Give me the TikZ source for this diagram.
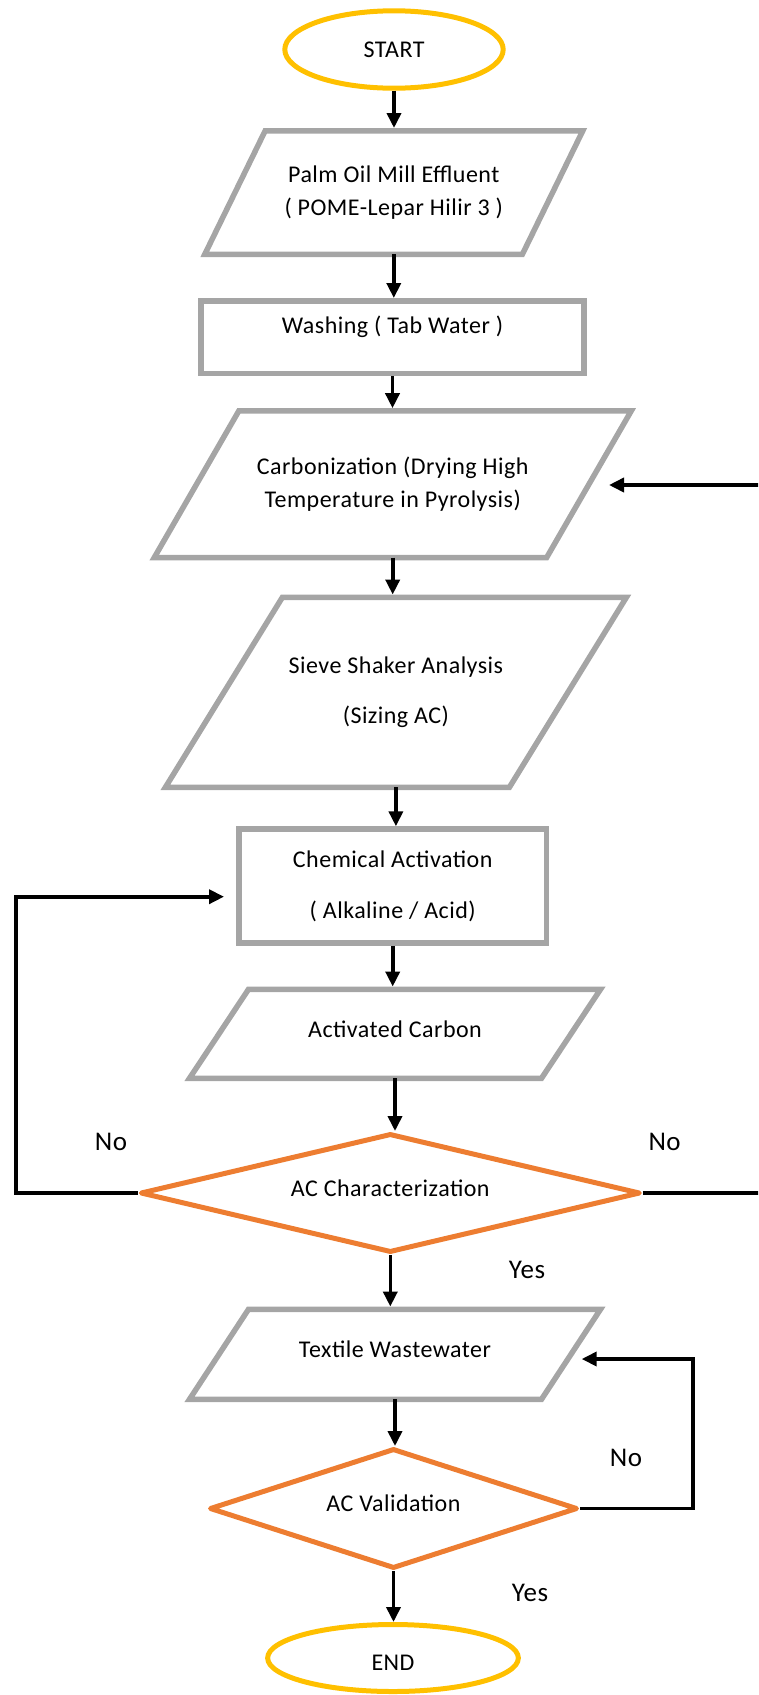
\documentclass[tikz,border=0pt]{standalone}
\usepackage{fontspec}
\setmainfont{Carlito}[LetterSpace=2]
\usetikzlibrary{shapes.geometric,arrows.meta,calc}
\definecolor{boxgray}{HTML}{A5A5A5}
\definecolor{dorange}{HTML}{ED7D31}
\definecolor{tgold}{HTML}{FFC000}
\begin{document}
\begin{tikzpicture}[x=1pt,y=-1pt,
  txt/.style={font=\fontsize{24}{32.5}\selectfont, align=center, inner sep=0pt, text=black},
  term/.style={txt, ellipse, draw=tgold, line width=5pt},
  io/.style={txt, rectangle, outer sep=0pt},
  iobox/.style={draw=boxgray, line width=5.5pt},
  proc/.style={txt, rectangle, draw=boxgray, line width=5.5pt},
  dec/.style={txt, diamond, draw=dorange, line width=5pt, line join=round},
  arr/.style={draw=black, line width=3.6pt, -{Triangle[length=15pt,width=14pt]}},
  toio/.style={arr, shorten >=2.75pt},
  lbl/.style={font=\fontsize{27}{30}\selectfont, inner sep=0pt, text=black}
]
\useasboundingbox (0,0) rectangle (758,1695);
\clip (0,0) rectangle (758,1695);

\node[term, minimum width=218.4pt, minimum height=77.4pt] (start) at (394,49.5) {START};

\node[io, minimum width=378pt, minimum height=123.5pt] (palm) at (393.8,192.5)
  {Palm Oil Mill Effluent\\[0.5pt]( POME-Lepar Hilir 3 )};

\node[proc, minimum width=383pt, minimum height=72.5pt, text height=17pt, text depth=25pt]
  (wash) at (392.5,337) {Washing ( Tab Water )};

\node[io, minimum width=477pt, minimum height=146.7pt] (carb) at (392.7,484.3)
  {Carbonization (Drying High\\Temperature in Pyrolysis)};

\node[io, minimum width=461pt, minimum height=190pt] (sieve) at (395.9,692.3)
  {Sieve Shaker Analysis\\[18pt](Sizing AC)};

\node[proc, minimum width=307.5pt, minimum height=114pt] (chem) at (392.7,886)
  {Chemical Activation\\[18.5pt]( Alkaline / Acid)};

\node[io, minimum width=411pt, minimum height=89pt, text height=16pt, text depth=9pt]
  (actc) at (395,1033.8) {Activated Carbon};

\node[dec, aspect=4.2, minimum width=500pt, minimum height=119pt, text height=16pt, text depth=10pt]
  (acchar) at (390.3,1193) {AC Characterization};

\node[io, minimum width=411pt, minimum height=90pt, text height=16pt, text depth=9pt]
  (textile) at (395,1354.3) {Textile Wastewater};

\node[dec, aspect=3.07, minimum width=368pt, minimum height=120pt, text height=16pt, text depth=11pt]
  (acval) at (393.5,1508.5) {AC Validation};

\node[term, minimum width=250.7pt, minimum height=67pt, text height=24.6pt, text depth=0pt]
  (end) at (393,1658) {END};

% parallelogram outlines of the input/output nodes
\foreach \n/\e in {palm/60.4, carb/84.6, sieve/117, actc/59, textile/59}
  \draw[iobox] (\n.south west) -- ($(\n.south east)+(-\e,0)$) -- (\n.north east)
     -- ($(\n.north west)+(\e,0)$) -- cycle;

% labels
\node[lbl] (no1) at (111,1141.7) {No};
\node[lbl] (no2) at (664.6,1141.7) {No};
\node[lbl] (yes1) at (527,1270) {Yes};
\node[lbl] (no3) at (626,1458) {No};
\node[lbl] (yes2) at (530,1593.3) {Yes};

% free ends of loop connectors
\coordinate (Lc) at (16,896.7);
\coordinate (chemIn) at (224,896.7);
\coordinate (Rc) at (780,485);
\coordinate (carbIn) at (609,485);
\coordinate (Vc) at (692.7,1359);
\coordinate (textIn) at (581.7,1359);

% main flow
\draw[toio] (start.south) -- (start.south |- palm.north);
\draw[arr] (palm.south) -- (palm.south |- wash.north);
\draw[toio] (wash.south) -- (wash.south |- carb.north);
\draw[toio] (carb.south) -- (carb.south |- sieve.north);
\draw[arr] (sieve.south) -- (sieve.south |- chem.north);
\draw[toio] (chem.south) -- (chem.south |- actc.north);
\draw[arr] (actc.south) -- (actc.south |- acchar.north);
\draw[toio] (acchar.south) -- (acchar.south |- textile.north);
\draw[arr] (textile.south) -- (textile.south |- acval.north);
\draw[arr] (acval.south) -- (acval.south |- end.north);

% loops
\draw[arr] (acchar.west) -| (Lc) -- (chemIn);
\draw[arr] (acchar.east) -| (Rc) -- (carbIn);
\draw[arr] (acval.east) -| (Vc) -- (textIn);
\end{tikzpicture}
\end{document}
